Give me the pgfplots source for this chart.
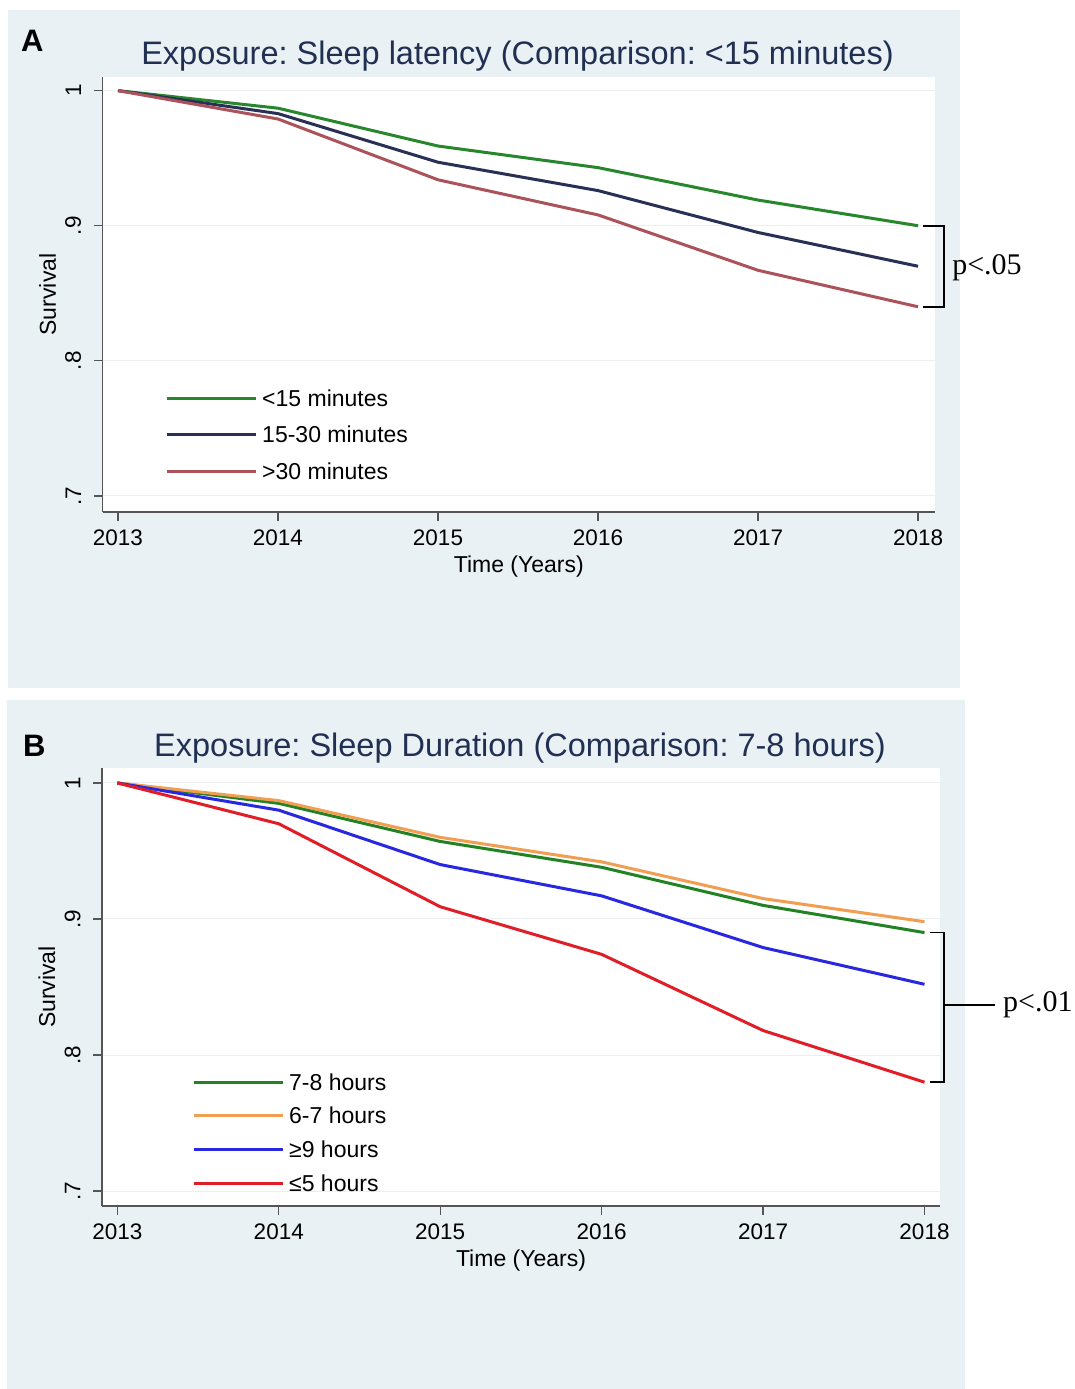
\documentclass[border=0pt]{standalone}
\usepackage{pgfplots}
\pgfplotsset{compat=1.18}
\usepackage{fontspec}
\setmainfont{Liberation Sans}
\newfontfamily\timesfont{Liberation Serif}
\frenchspacing

\definecolor{bgc}{RGB}{233,241,245}
\definecolor{titlec}{RGB}{33,48,82}
\definecolor{gA}{RGB}{40,135,45}
\definecolor{nA}{RGB}{40,48,85}
\definecolor{rA}{RGB}{172,82,90}
\definecolor{gB}{RGB}{35,130,35}
\definecolor{oB}{RGB}{242,158,82}
\definecolor{bB}{RGB}{40,40,225}
\definecolor{rB}{RGB}{225,30,40}
\definecolor{axc}{RGB}{85,85,85}
\definecolor{gridc}{RGB}{236,239,241}

\pgfplotsset{mystyle/.style={
  scale only axis, anchor=south west, clip=false,
  axis x line*=bottom, axis y line*=left,
  axis line style={axc, line width=1.5pt, -},
  axis background/.style={fill=white},
  tick align=outside, major tick length=9pt,
  tick style={axc, line width=1.3pt},
  xtick={2013,2014,2015,2016,2017,2018},
  xticklabels={2013,2014,2015,2016,2017,2018},
  ytick={0.7,0.8,0.9,1}, yticklabels={.7,.8,.9,1},
  /pgf/number format/assume math mode=true,
  ticklabel style={font=\fontsize{22.5}{26}\selectfont},
  xticklabel style={yshift=-5pt},
  yticklabel style={xshift=-9pt, rotate=90, anchor=south},
  ymajorgrids, grid style={gridc, line width=1pt},
  xlabel={Time (Years)}, ylabel={Survival},
  every axis x label/.style={at={(axis description cs:0.5,0)}, yshift=-55pt, anchor=center, font=\fontsize{23}{27}\selectfont},
  every axis y label/.style={at={(axis description cs:0,0.5)}, xshift=-55pt, rotate=90, anchor=center, font=\fontsize{23}{27}\selectfont},
  legend style={draw=none, fill=none, inner sep=0pt,
    font=\fontsize{23}{27}\selectfont,
    nodes={inner sep=0pt, text height=17pt, text depth=5pt},
    column sep=5pt},
  legend cell align=left,
  legend image code/.code={\draw[#1, line width=3pt] (0pt,2pt) -- (89pt,2pt);},
  every axis plot/.append style={line width=3pt, line join=round},
}}

\begin{document}
\begin{tikzpicture}
\fill[white] (0pt,0pt) rectangle (1075pt,1389pt);
\useasboundingbox (0pt,0pt) rectangle (1075pt,1389pt);
\fill[bgc] (8pt,701pt) rectangle (960pt,1379pt);
\fill[bgc] (7pt,0pt) rectangle (965pt,689pt);

% Panel A
\begin{axis}[mystyle,
  at={(102.6pt,877pt)}, width=832.4pt, height=435pt,
  xmin=2012.904, xmax=2018.106, ymin=0.6881, ymax=1.0101,
  legend style={at={(axis description cs:0.075,0.283)}, anchor=north west, row sep=14.5pt}]
\addplot[gA] coordinates {(2013,1) (2014,0.987) (2015,0.959) (2016,0.943) (2017,0.919) (2018,0.900)};
\addlegendentry{<15 minutes}
\addplot[nA] coordinates {(2013,1) (2014,0.983) (2015,0.947) (2016,0.926) (2017,0.895) (2018,0.870)};
\addlegendentry{15-30 minutes}
\addplot[rA] coordinates {(2013,1) (2014,0.979) (2015,0.934) (2016,0.908) (2017,0.867) (2018,0.840)};
\addlegendentry{>30 minutes}
\draw[black, line width=1.6pt] (axis cs:2018.031,0.900) -- (axis cs:2018.1625,0.900) -- (axis cs:2018.1625,0.840) -- (axis cs:2018.031,0.840);
\node[anchor=west, inner sep=0pt, font=\timesfont\fontsize{30}{34}\selectfont] at (axis cs:2018.2125,0.869) {p<.05};
\end{axis}

% Panel B
\begin{axis}[mystyle,
  at={(102pt,183pt)}, width=838pt, height=438pt,
  xmin=2012.905, xmax=2018.096, ymin=0.689, ymax=1.011,
  legend style={at={(axis description cs:0.1074,0.3037)}, anchor=north west, row sep=11.7pt}]
\addplot[gB] coordinates {(2013,1) (2014,0.985) (2015,0.957) (2016,0.938) (2017,0.910) (2018,0.890)};
\addlegendentry{7-8 hours}
\addplot[oB] coordinates {(2013,1) (2014,0.987) (2015,0.960) (2016,0.942) (2017,0.915) (2018,0.898)};
\addlegendentry{6-7 hours}
\addplot[bB] coordinates {(2013,1) (2014,0.980) (2015,0.940) (2016,0.917) (2017,0.879) (2018,0.852)};
\addlegendentry{≥9 hours}
\addplot[rB] coordinates {(2013,1) (2014,0.970) (2015,0.909) (2016,0.874) (2017,0.818) (2018,0.780)};
\addlegendentry{≤5 hours}
\draw[black, line width=1.6pt] (axis cs:2018.034,0.890) -- (axis cs:2018.119,0.890) -- (axis cs:2018.119,0.780) -- (axis cs:2018.034,0.780);
\draw[black, line width=1.6pt] (axis cs:2018.119,0.8368) -- (axis cs:2018.437,0.8368);
\node[anchor=west, inner sep=0pt, font=\timesfont\fontsize{30}{34}\selectfont] at (axis cs:2018.486,0.8368) {p<.01};
\end{axis}

% Titles and panel letters
\node[anchor=base, inner sep=0pt, text=titlec, font=\fontsize{32.5}{37}\selectfont] at (517.5pt,1324pt) {Exposure: Sleep latency (Comparison: <15 minutes)};
\node[anchor=base, inner sep=0pt, text=titlec, font=\fontsize{32.5}{37}\selectfont] at (520pt,632pt) {Exposure: Sleep Duration (Comparison: 7-8 hours)};
\node[anchor=base west, inner sep=0pt, font=\bfseries\fontsize{31}{36}\selectfont] at (21pt,1337pt) {A};
\node[anchor=base west, inner sep=0pt, font=\bfseries\fontsize{31}{36}\selectfont] at (23pt,632pt) {B};
\end{tikzpicture}
\end{document}
